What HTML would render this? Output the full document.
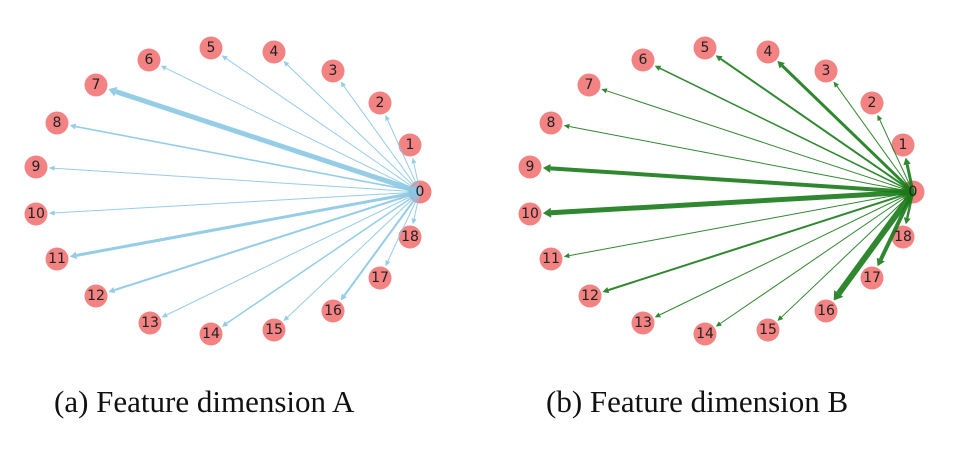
<!DOCTYPE html>
<html><head><meta charset="utf-8"><style>
html,body{margin:0;padding:0;background:#fff;width:962px;height:452px;overflow:hidden}
svg{position:absolute;left:0;top:0}
.cap{position:absolute;top:384px;font-family:"Liberation Serif",serif;font-size:31px;color:#111;white-space:nowrap}
text{font-family:"DejaVu Sans","Liberation Sans",sans-serif;font-size:14px;fill:#222;text-anchor:middle;dominant-baseline:central}
</style></head><body>
<svg width="962" height="452" viewBox="0 0 962 452">
<g id="nodes" fill="#f27474" fill-opacity="0.9">
<circle cx="420" cy="192" r="11.5"/><circle cx="410" cy="145" r="11.5"/><circle cx="380" cy="103" r="11.5"/><circle cx="333" cy="71" r="11.5"/><circle cx="274" cy="52" r="11.5"/><circle cx="211" cy="48" r="11.5"/><circle cx="149" cy="60" r="11.5"/><circle cx="96" cy="85" r="11.5"/><circle cx="57" cy="123" r="11.5"/><circle cx="36" cy="167" r="11.5"/><circle cx="36" cy="214" r="11.5"/><circle cx="57" cy="259" r="11.5"/><circle cx="96" cy="296" r="11.5"/><circle cx="150" cy="323" r="11.5"/><circle cx="211" cy="334" r="11.5"/><circle cx="274" cy="330" r="11.5"/><circle cx="333" cy="311" r="11.5"/><circle cx="380" cy="278" r="11.5"/><circle cx="410" cy="237" r="11.5"/>
<circle cx="913" cy="192" r="11.5"/><circle cx="903" cy="145" r="11.5"/><circle cx="872" cy="103" r="11.5"/><circle cx="826" cy="71" r="11.5"/><circle cx="768" cy="52" r="11.5"/><circle cx="705" cy="48" r="11.5"/><circle cx="643" cy="60" r="11.5"/><circle cx="589" cy="85" r="11.5"/><circle cx="551" cy="123" r="11.5"/><circle cx="530" cy="167" r="11.5"/><circle cx="530" cy="214" r="11.5"/><circle cx="551" cy="259" r="11.5"/><circle cx="590" cy="296" r="11.5"/><circle cx="643" cy="323" r="11.5"/><circle cx="705" cy="334" r="11.5"/><circle cx="768" cy="330" r="11.5"/><circle cx="826" cy="311" r="11.5"/><circle cx="872" cy="278" r="11.5"/><circle cx="903" cy="237" r="11.5"/>
</g>
<g id="edges"></g>
<g>
<text x="420" y="192">0</text><text x="410" y="145">1</text><text x="380" y="103">2</text><text x="333" y="71">3</text><text x="274" y="52">4</text><text x="211" y="48">5</text><text x="149" y="60">6</text><text x="96" y="85">7</text><text x="57" y="123">8</text><text x="36" y="167">9</text><text x="36" y="214">10</text><text x="57" y="259">11</text><text x="96" y="296">12</text><text x="150" y="323">13</text><text x="211" y="334">14</text><text x="274" y="330">15</text><text x="333" y="311">16</text><text x="380" y="278">17</text><text x="410" y="237">18</text>
<text x="913" y="192">0</text><text x="903" y="145">1</text><text x="872" y="103">2</text><text x="826" y="71">3</text><text x="768" y="52">4</text><text x="705" y="48">5</text><text x="643" y="60">6</text><text x="589" y="85">7</text><text x="551" y="123">8</text><text x="530" y="167">9</text><text x="530" y="214">10</text><text x="551" y="259">11</text><text x="590" y="296">12</text><text x="643" y="323">13</text><text x="705" y="334">14</text><text x="768" y="330">15</text><text x="826" y="311">16</text><text x="872" y="278">17</text><text x="903" y="237">18</text>
</g>
</svg>
<div class="cap" style="left:54px">(a) Feature dimension A</div>
<div class="cap" style="left:546px">(b) Feature dimension B</div>
<script>
var L=[[420,192],[410,145],[380,103],[333,71],[274,52],[211,48],[149,60],[96,85],[57,123],[36,167],[36,214],[57,259],[96,296],[150,323],[211,334],[274,330],[333,311],[380,278],[410,237]];
var R=[[913,192],[903,145],[872,103],[826,71],[768,52],[705,48],[643,60],[589,85],[551,123],[530,167],[530,214],[551,259],[590,296],[643,323],[705,334],[768,330],[826,311],[872,278],[903,237]];
var wL=[0,1,1,1,1,1,1,5,1.6,1,1,3,2,1,1.5,1,2,1,1];
var wR=[0,3,1,1,3,2,1.5,1,1,4,5,1,2,1,1,1,6,4,2.5];
var g=document.getElementById('edges'),s='';
function draw(P,W,col,op){
 var x0=P[0][0],y0=P[0][1];
 for(var i=1;i<19;i++){
  var x1=P[i][0],y1=P[i][1],dx=x1-x0,dy=y1-y0,d=Math.sqrt(dx*dx+dy*dy),ux=dx/d,uy=dy/d;
  var ex=x1-ux*13,ey=y1-uy*13,w=W[i],ah=5+w*0.6,aw=2+w*0.6;
  var bx=ex-ux*ah,by=ey-uy*ah;
  s+='<line x1="'+x0+'" y1="'+y0+'" x2="'+bx+'" y2="'+by+'" stroke="'+col+'" stroke-opacity="'+op+'" stroke-width="'+w+'"/>';
  s+='<polygon points="'+ex+','+ey+' '+(bx-uy*aw)+','+(by+ux*aw)+' '+(bx+uy*aw)+','+(by-ux*aw)+'" fill="'+col+'" fill-opacity="'+op+'"/>';
 }
}
draw(L,wL,'#8ac8e4',0.9);
draw(R,wR,'#187a18',0.9);
g.innerHTML=s;
</script>
</body></html>
